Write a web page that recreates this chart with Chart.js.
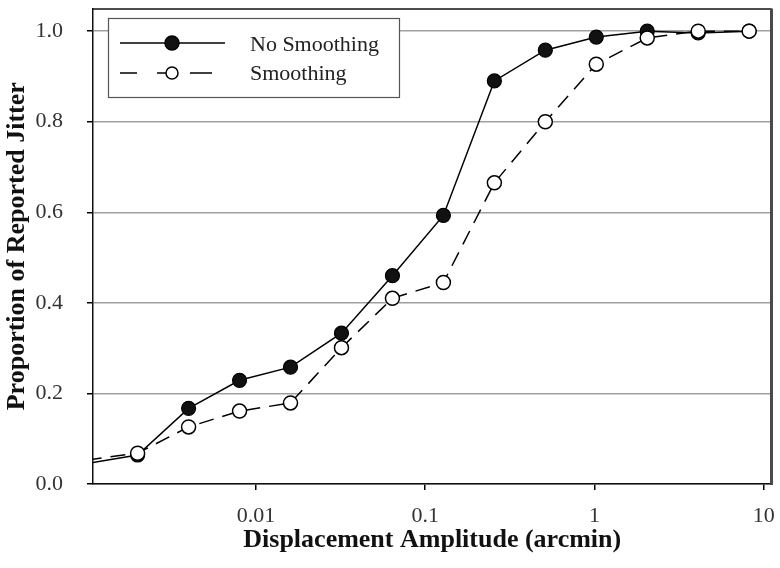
<!DOCTYPE html>
<html><head><meta charset="utf-8">
<script src="https://cdn.jsdelivr.net/npm/chart.js@4.4.0/dist/chart.umd.min.js"></script>
<style>html,body{margin:0;padding:0;background:#fff}#wrap{width:780px;height:568px}</style>
</head><body><div id="wrap"><canvas id="c" width="780" height="568"></canvas></div>
<script>
const amplitudes = [0.001,0.002,0.004,0.008,0.016,0.032,0.064,0.128,0.256,0.512,1.024,2.048,4.096,8.192];
const noSmoothing = [0.045,0.064,0.167,0.229,0.258,0.333,0.46,0.593,0.89,0.958,0.987,1.0,0.996,1.0];
const smoothing = [0.053,0.068,0.126,0.161,0.179,0.301,0.41,0.445,0.665,0.80,0.927,0.985,1.0,1.0];
const seriesNames = ['No Smoothing','Smoothing'];
const xTickValues = [0.01,0.1,1,10];
const yTickValues = [0,0.2,0.4,0.6,0.8,1.0];
const xTitle = 'Displacement Amplitude (arcmin)';
const yTitle = 'Proportion of Reported Jitter';

const X_MIN = 0.00109, X_MAX = 11.1;
const SERIF = '"Liberation Serif", "Times New Roman", serif';

const toPts = arr => amplitudes.map((a,i)=>({x:a,y:arr[i]}));
const radiusFn = ctx => (ctx.parsed && ctx.parsed.x < X_MIN) ? 0 : 7;

const framePlugin = {
  id:'frame',
  afterDraw(chart){
    const {ctx, chartArea:a} = chart;
    ctx.save();
    ctx.strokeStyle='#111'; ctx.lineWidth=1.5;
    ctx.beginPath(); ctx.moveTo(a.left, a.top+0.5); ctx.lineTo(a.right, a.top+0.5); ctx.stroke();
    ctx.strokeStyle='#4a4a4a'; ctx.lineWidth=3;
    ctx.beginPath(); ctx.moveTo(a.right, a.top); ctx.lineTo(a.right, a.bottom+1); ctx.stroke();
    ctx.restore();
  }
};

const legendPlugin = {
  id:'boxLegend',
  afterDraw(chart){
    const c = chart.ctx;
    c.save();
    c.fillStyle='#fff';
    c.fillRect(108,18,292,79);
    c.strokeStyle='#555'; c.lineWidth=1.2;
    c.strokeRect(108.5,18.5,291,79);
    c.strokeStyle='#000'; c.lineWidth=1.5;
    c.beginPath(); c.moveTo(120,43); c.lineTo(225,43); c.stroke();
    c.beginPath(); c.arc(172,43,7,0,Math.PI*2); c.fillStyle='#111'; c.fill(); c.stroke();
    c.beginPath();
    c.moveTo(120,73); c.lineTo(137,73);
    c.moveTo(157,73); c.lineTo(166,73);
    c.moveTo(190,73); c.lineTo(212,73);
    c.stroke();
    c.beginPath(); c.arc(172,73,6,0,Math.PI*2); c.fillStyle='#fff'; c.fill(); c.stroke();
    c.fillStyle='#222'; c.font='22px '+SERIF; c.textAlign='left'; c.textBaseline='alphabetic';
    c.fillText(seriesNames[0],250,51);
    c.fillText(seriesNames[1],250,80);
    c.restore();
  }
};

new Chart(document.getElementById('c'), {
  type:'line',
  data:{
    datasets:[
      {label:seriesNames[0], data:toPts(noSmoothing), order:1,
       borderColor:'#000', borderWidth:1.5, backgroundColor:'#111',
       pointBackgroundColor:'#111', pointBorderColor:'#000', pointBorderWidth:1.2,
       pointRadius:radiusFn, tension:0, clip:0},
      {label:seriesNames[1], data:toPts(smoothing), order:0,
       borderColor:'#000', borderWidth:1.5, borderDash:[15,9], backgroundColor:'#fff',
       pointBackgroundColor:'#fff', pointBorderColor:'#000', pointBorderWidth:1.5,
       pointRadius:radiusFn, tension:0, clip:0}
    ]
  },
  options:{
    responsive:false, animation:false, devicePixelRatio:1,
    layout:{padding:{top:7,right:5,left:0,bottom:0}},
    plugins:{legend:{display:false}, tooltip:{enabled:false}},
    scales:{
      x:{type:'logarithmic', min:X_MIN, max:X_MAX,
         afterBuildTicks:s=>{s.ticks = xTickValues.map(v=>({value:v}));},
         afterFit:s=>{s.height = 84; s.paddingLeft = 0; s.paddingRight = 0; s.paddingTop = 0; s.paddingBottom = 0;},
         ticks:{autoSkip:false, maxRotation:0, padding:13, color:'#333',
                font:{family:SERIF,size:22}, callback:v=>String(v)},
         grid:{drawOnChartArea:false, tickLength:6, tickColor:'#000', lineWidth:1.5},
         border:{color:'#111', width:1.5},
         title:{display:true, text:xTitle, color:'#111',
                font:{family:SERIF,size:26,weight:'bold'}, padding:{top:0,bottom:12}}
      },
      y:{type:'linear', min:0, max:1.05,
         afterBuildTicks:s=>{s.ticks = yTickValues.map(v=>({value:v}));},
         afterFit:s=>{s.width = 93; s.paddingTop = 0; s.paddingBottom = 0; s.paddingLeft = 0; s.paddingRight = 0;},
         ticks:{padding:24, color:'#333', font:{family:SERIF,size:22}, callback:v=>Number(v).toFixed(1)},
         grid:{color:'#a0a0a0', lineWidth:1.5, tickLength:6, tickColor:'#000'},
         border:{color:'#111', width:1.5},
         title:{display:true, text:yTitle, color:'#111',
                font:{family:SERIF,size:26,weight:'bold'}, padding:{top:2,bottom:0}}
      }
    }
  },
  plugins:[framePlugin, legendPlugin]
});
</script>
</body></html>
